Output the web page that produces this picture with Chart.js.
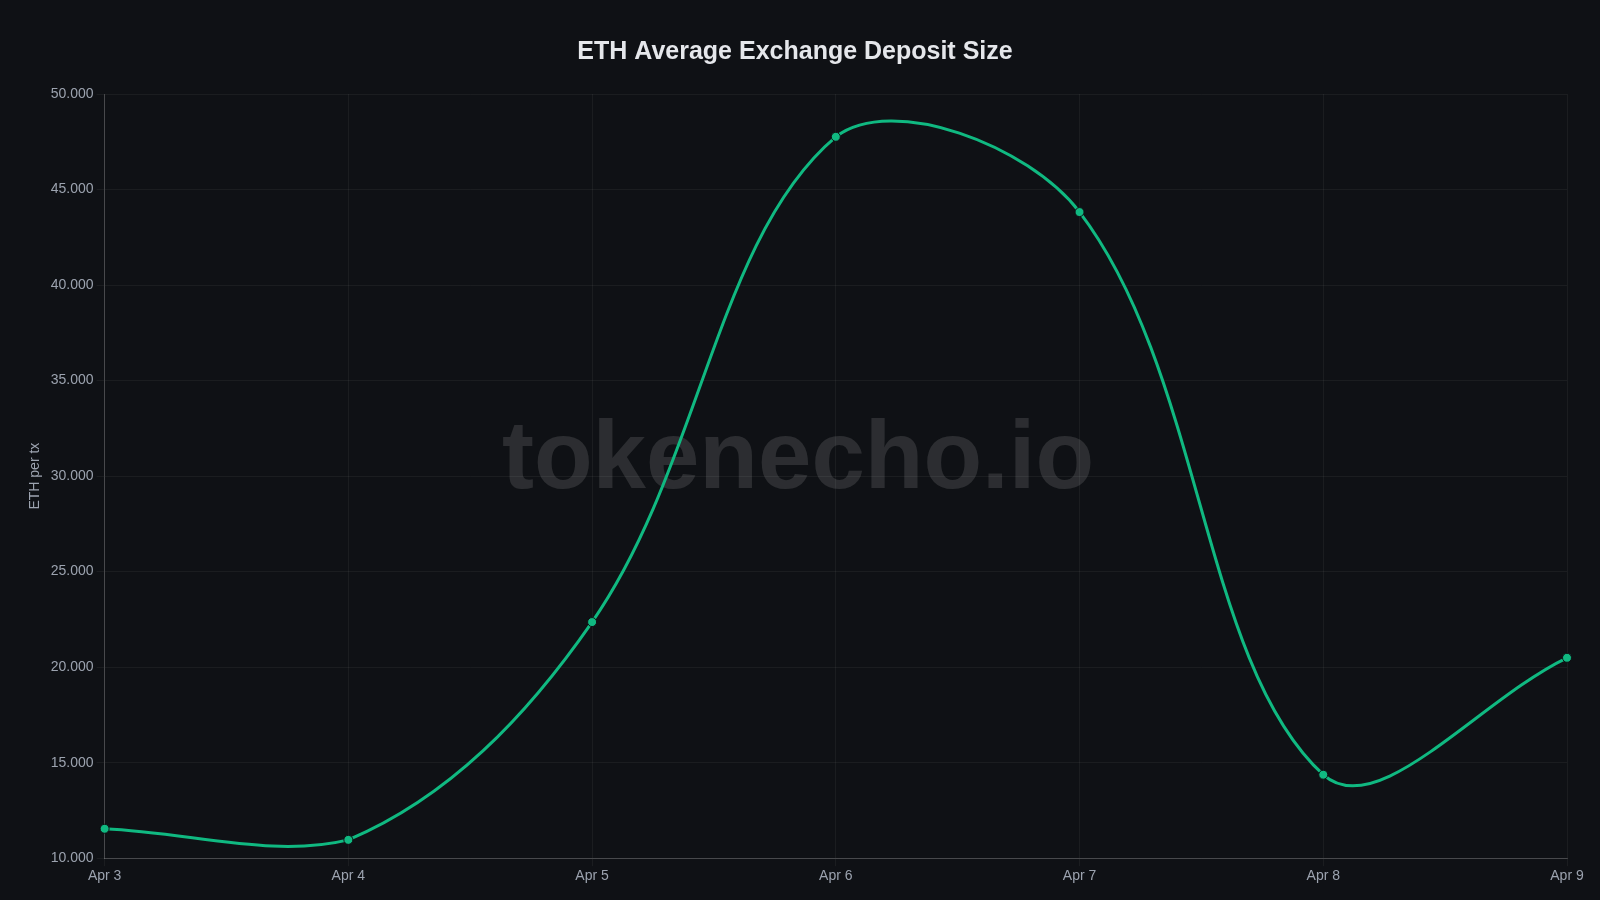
<!DOCTYPE html>
<html>
<head>
<meta charset="utf-8">
<script src="https://cdn.jsdelivr.net/npm/chart.js@4/dist/chart.umd.min.js"></script>
<style>
  html, body { margin: 0; padding: 0; background: #0f1115; }
  #wrap { width: 1600px; height: 900px; }
</style>
</head>
<body>
<div id="wrap"><canvas id="chart" width="1600" height="900"></canvas></div>
<script>
const labels = ['Apr 3', 'Apr 4', 'Apr 5', 'Apr 6', 'Apr 7', 'Apr 8', 'Apr 9'];
const depositSize = [11.54, 10.96, 22.36, 47.76, 43.82, 14.37, 20.49];

// big faded watermark in the middle of the plot
const watermark = {
  id: 'watermark',
  beforeDatasetsDraw(chart) {
    const { ctx } = chart;
    ctx.save();
    ctx.font = 'bold 96px "Liberation Sans", Arial, sans-serif';
    ctx.fillStyle = 'rgba(255,255,255,0.12)';
    ctx.textAlign = 'center';
    ctx.textBaseline = 'middle';
    ctx.fillText('tokenecho.io', 798, 462);
    ctx.restore();
  }
};

new Chart(document.getElementById('chart').getContext('2d'), {
  type: 'line',
  data: {
    labels: labels,
    datasets: [{
      label: 'ETH per tx',
      data: depositSize,
      borderColor: '#10b981',
      backgroundColor: '#10b981',
      borderWidth: 3,
      tension: 0.36,
      pointRadius: 4.5,
      pointBackgroundColor: '#10b981',
      pointBorderColor: '#0f1115',
      pointBorderWidth: 1
    }]
  },
  options: {
    responsive: false,
    animation: false,
    layout: { padding: { left: 23, right: 33, top: 10, bottom: 13 } },
    plugins: {
      legend: { display: false },
      tooltip: { enabled: false },
      title: {
        display: true,
        text: 'ETH Average Exchange Deposit Size',
        color: '#e5e7eb',
        font: { size: 25, weight: 'bold', family: '"Liberation Sans", Arial, sans-serif' },
        padding: { top: 27, bottom: 27 }
      }
    },
    scales: {
      x: {
        grid: { color: 'rgba(255,255,255,0.05)' },
        border: { color: 'rgba(255,255,255,0.2)' },
        ticks: { color: '#9ca3af', font: { size: 14 }, maxRotation: 0, padding: 2 }
      },
      y: {
        min: 10,
        max: 50,
        grid: { color: 'rgba(255,255,255,0.05)' },
        border: { color: 'rgba(255,255,255,0.2)' },
        ticks: {
          stepSize: 5,
          color: '#9ca3af',
          font: { size: 14 },
          callback: v => v.toFixed(3)
        },
        title: { display: true, text: 'ETH per tx', color: '#9ca3af', font: { size: 14 } }
      }
    }
  },
  plugins: [watermark]
});
</script>
</body>
</html>
